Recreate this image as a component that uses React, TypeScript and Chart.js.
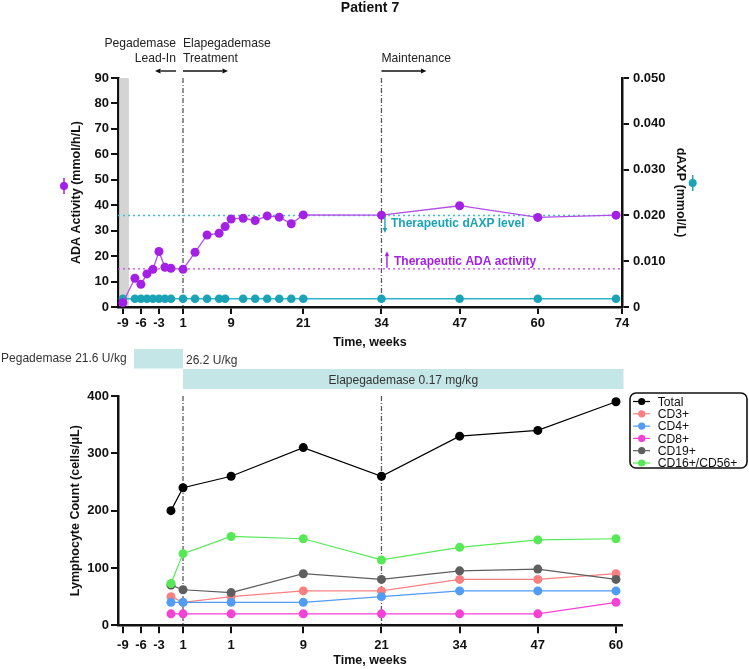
import React, { useEffect, useRef } from 'react';
import { Chart, registerables } from 'chart.js';

Chart.register(...registerables);

const FONT = '"Liberation Sans", Arial, Helvetica, sans-serif';

// ---------- Top panel data ----------
const adaWeeks = [-9, -7, -6, -5, -4, -3, -2, -1, 1, 3, 5, 7, 8, 9, 11, 13, 15, 17, 19, 21, 34, 47, 60, 73];
const adaActivity = [1.7, 11.3, 8.9, 13.0, 14.8, 21.8, 15.6, 15.2, 14.8, 21.5, 28.3, 29.0, 31.6, 34.6, 34.9, 34.0, 35.8, 35.3, 32.7, 36.2, 36.1, 39.8, 35.2, 36.1];
const daxpWeeks = [-9, -7, -6, -5, -4, -3, -2, -1, 1, 3, 5, 7, 8, 11, 13, 15, 17, 19, 21, 34, 47, 60, 73];
const daxpLevel = [0.0018, 0.0018, 0.0018, 0.0018, 0.0018, 0.0018, 0.0018, 0.0018, 0.0018, 0.0018, 0.0018, 0.0018, 0.0018, 0.0018, 0.0018, 0.0018, 0.0018, 0.0018, 0.0018, 0.0018, 0.0018, 0.0018, 0.0018];
const therapeuticAda = 15;
const therapeuticDaxp = 0.02;
const topTickValues = [-9, -6, -3, 1, 9, 21, 34, 47, 60, 74];
const phaseWeeks = [1, 34];
const leadInShadeEnd = -8;

// ---------- Bottom panel data ----------
const lymphWeeks = [-1, 1, 9, 21, 34, 47, 60, 73];
const bottomTickPositions = [-9, -6, -3, 1, 9, 21, 34, 47, 60, 73];
const bottomTickLabels = ['-9', '-6', '-3', '1', '1', '9', '21', '34', '47', '60'];
const lymphTotal = [200, 240, 260, 310, 260, 330, 340, 390];
const lymphCD3 = [50, 40, 50, 60, 60, 80, 80, 90];
const lymphCD4 = [40, 40, 40, 40, 50, 60, 60, 60];
const lymphCD8 = [20, 20, 20, 20, 20, 20, 20, 40];
const lymphCD19 = [70, 62, 57, 90, 80, 95, 98, 80];
const lymphCD16CD56 = [73, 125, 155, 151, 114, 136, 149, 151];
const seriesNames = ['Total', 'CD3+', 'CD4+', 'CD8+', 'CD19+', 'CD16+/CD56+'];
const seriesValues = [lymphTotal, lymphCD3, lymphCD4, lymphCD8, lymphCD19, lymphCD16CD56];
const seriesColors = ['#000000', '#f98080', '#509cf6', '#f542d6', '#5e5e5e', '#55ea55'];
const pegademaseSpan = [-7.15, 1];
const elapegademaseSpan = [1, 74];

const X_MIN = -9.81;
const X_MAX = 74;
const PURPLE = '#a420e4';
const TEAL = '#1aa3b7';
const AXIS = '#111111';

function sText(ctx: CanvasRenderingContext2D, text: string, x: number, y: number, align: CanvasTextAlign, sx = 0.9) {
  ctx.save();
  ctx.translate(x, y);
  ctx.scale(sx, 1);
  ctx.textAlign = align;
  ctx.textBaseline = 'middle';
  ctx.fillText(text, 0, 0);
  ctx.restore();
}

function arrow(ctx: CanvasRenderingContext2D, x1: number, y1: number, x2: number, y2: number, color: string, head = 5.5) {
  ctx.save();
  ctx.strokeStyle = color;
  ctx.fillStyle = color;
  ctx.lineWidth = 1.4;
  const ang = Math.atan2(y2 - y1, x2 - x1);
  const hx = x2 - head * Math.cos(ang);
  const hy = y2 - head * Math.sin(ang);
  ctx.beginPath();
  ctx.moveTo(x1, y1);
  ctx.lineTo(hx, hy);
  ctx.stroke();
  ctx.beginPath();
  ctx.moveTo(x2, y2);
  ctx.lineTo(hx + head * 0.45 * Math.sin(ang), hy - head * 0.45 * Math.cos(ang));
  ctx.lineTo(hx - head * 0.45 * Math.sin(ang), hy + head * 0.45 * Math.cos(ang));
  ctx.closePath();
  ctx.fill();
  ctx.restore();
}

function rotText(ctx: CanvasRenderingContext2D, text: string, cx: number, cy: number, angle: number) {
  ctx.save();
  ctx.translate(cx, cy);
  ctx.rotate(angle);
  ctx.textAlign = 'center';
  ctx.textBaseline = 'middle';
  ctx.fillText(text, 0, 0);
  ctx.restore();
}

function marker(ctx: CanvasRenderingContext2D, cx: number, cy: number, color: string) {
  ctx.save();
  ctx.strokeStyle = color;
  ctx.fillStyle = color;
  ctx.lineWidth = 1.5;
  ctx.beginPath();
  ctx.moveTo(cx, cy - 8);
  ctx.lineTo(cx, cy + 8);
  ctx.stroke();
  ctx.beginPath();
  ctx.arc(cx, cy, 4, 0, Math.PI * 2);
  ctx.fill();
  ctx.restore();
}

function phaseLines(chart: any) {
  const { ctx, chartArea: a, scales } = chart;
  ctx.save();
  ctx.strokeStyle = '#5a5a5a';
  ctx.lineWidth = 1.3;
  ctx.setLineDash([5, 2, 1, 2]);
  phaseWeeks.forEach((w) => {
    const px = scales.x.getPixelForValue(w);
    ctx.beginPath();
    ctx.moveTo(px, a.top);
    ctx.lineTo(px, a.bottom);
    ctx.stroke();
  });
  ctx.restore();
}

const topPlugin = {
  id: 'topDecor',
  beforeDatasetsDraw(chart: any) {
    const { ctx, chartArea: a, scales } = chart;
    ctx.save();
    ctx.fillStyle = '#d4d4d4';
    const bx = scales.x.getPixelForValue(leadInShadeEnd);
    ctx.fillRect(a.left + 1.3, a.top, bx - a.left - 1.3, a.bottom - a.top - 1.2);
    ctx.restore();
    phaseLines(chart);
  },
  afterDraw(chart: any) {
    const { ctx, scales, chartArea: a } = chart;
    const x = scales.x, y = scales.y, y1 = scales.y1;
    ctx.save();
    ctx.textBaseline = 'middle';
    ctx.fillStyle = AXIS;
    ctx.font = `bold 14px ${FONT}`;
    ctx.textAlign = 'center';
    ctx.fillText('Patient 7', 370, 8);

    const p1 = x.getPixelForValue(1);
    const p34 = x.getPixelForValue(34);
    ctx.font = `13.5px ${FONT}`;
    ctx.fillStyle = '#222';
    sText(ctx, 'Pegademase', p1 - 7, 43, 'right');
    sText(ctx, 'Lead-In', p1 - 7, 58, 'right');
    sText(ctx, 'Elapegademase', p1, 43, 'left');
    sText(ctx, 'Treatment', p1, 58, 'left');
    sText(ctx, 'Maintenance', p34, 58, 'left');
    arrow(ctx, p1 - 7, 71, p1 - 28, 71, '#111');
    arrow(ctx, p1, 71, p1 + 45, 71, '#111');
    arrow(ctx, p34, 71, p34 + 45, 71, '#111');

    const yd = y1.getPixelForValue(therapeuticDaxp);
    const ya = y.getPixelForValue(therapeuticAda);
    ctx.font = `bold 13.5px ${FONT}`;
    ctx.fillStyle = TEAL;
    sText(ctx, 'Therapeutic dAXP level', p34 + 9.5, yd + 7.5, 'left', 0.89);
    arrow(ctx, p34 + 3.5, yd + 1, p34 + 3.5, yd + 17.5, TEAL, 5);
    ctx.fillStyle = PURPLE;
    sText(ctx, 'Therapeutic ADA activity', p34 + 12.5, ya - 7.5, 'left', 0.89);
    arrow(ctx, p34 + 5.5, ya - 1, p34 + 5.5, ya - 17.5, PURPLE, 5);

    ctx.fillStyle = AXIS;
    ctx.font = `bold 12.5px ${FONT}`;
    const cy = (a.top + a.bottom) / 2;
    rotText(ctx, 'ADA Activity (mmol/h/L)', 77, cy, -Math.PI / 2);
    marker(ctx, 64, 186, PURPLE);
    rotText(ctx, 'dAXP (mmol/L)', 680, cy, Math.PI / 2);
    marker(ctx, 692.7, 183, TEAL);
    ctx.textAlign = 'center';
    ctx.fillText('Time, weeks', (a.left + a.right) / 2, 343);
    ctx.restore();
  },
};

const BOT_OFF = 340;

const bottomPlugin = {
  id: 'bottomDecor',
  beforeDatasetsDraw(chart: any) {
    phaseLines(chart);
  },
  afterDraw(chart: any) {
    const { ctx, scales, chartArea: a } = chart;
    const x = scales.x;
    ctx.save();
    // treatment bars
    ctx.fillStyle = '#c4e6e6';
    const pg0 = x.getPixelForValue(pegademaseSpan[0]);
    const pg1 = x.getPixelForValue(pegademaseSpan[1]);
    ctx.fillRect(pg0, 349 - BOT_OFF, pg1 - pg0, 19.5);
    const el0 = x.getPixelForValue(elapegademaseSpan[0]);
    const el1 = x.getPixelForValue(elapegademaseSpan[1]) + 1.5;
    ctx.fillRect(el0, 369 - BOT_OFF, el1 - el0, 20);
    ctx.fillStyle = '#333';
    ctx.font = `13.5px ${FONT}`;
    sText(ctx, 'Pegademase 21.6 U/kg', 1, 358.5 - BOT_OFF, 'left', 0.89);
    sText(ctx, '26.2 U/kg', pg1 + 3, 360 - BOT_OFF, 'left', 0.89);
    sText(ctx, 'Elapegademase 0.17 mg/kg', (el0 + el1) / 2, 380 - BOT_OFF, 'center', 0.89);

    // axis titles
    ctx.fillStyle = AXIS;
    ctx.font = `bold 12.5px ${FONT}`;
    rotText(ctx, 'Lymphocyte Count (cells/μL)', 76, (a.top + a.bottom) / 2, -Math.PI / 2);
    ctx.textAlign = 'center';
    ctx.textBaseline = 'middle';
    ctx.fillText('Time, weeks', (a.left + a.right) / 2, 660.5 - BOT_OFF);

    // legend
    ctx.strokeStyle = '#111';
    ctx.lineWidth = 1.6;
    ctx.beginPath();
    (ctx as any).roundRect(630, 393 - BOT_OFF, 117, 75, 6);
    ctx.stroke();
    ctx.font = `13.5px ${FONT}`;
    seriesNames.forEach((name, i) => {
      const yy = 401.5 - BOT_OFF + i * 12.3;
      ctx.strokeStyle = seriesColors[i];
      ctx.fillStyle = seriesColors[i];
      ctx.lineWidth = 1.2;
      ctx.beginPath();
      ctx.moveTo(633, yy);
      ctx.lineTo(650, yy);
      ctx.stroke();
      ctx.beginPath();
      ctx.arc(641.7, yy, 3.6, 0, Math.PI * 2);
      ctx.fill();
      ctx.fillStyle = '#111';
      sText(ctx, name, 657.7, yy + 0.5, 'left', 0.9);
    });
    ctx.restore();
  },
};

const tickFont = { family: FONT, size: 13, weight: 'bold' as const };

function axisGrid(len: number) {
  return { display: true, drawOnChartArea: false, drawTicks: true, tickLength: len, color: AXIS, lineWidth: 2 };
}
const axisBorder = { display: true, color: AXIS, width: 2.5 };

function topConfig(): any {
  return {
    type: 'line',
    data: {
      datasets: [
        {
          label: 'ADA Activity',
          data: adaWeeks.map((w, i) => ({ x: w, y: adaActivity[i] })),
          yAxisID: 'y',
          borderColor: '#b24ee6',
          backgroundColor: PURPLE,
          pointBackgroundColor: PURPLE,
          pointBorderColor: PURPLE,
          pointRadius: 4.5,
          pointBorderWidth: 0,
          borderWidth: 1.3,
          order: 0,
        },
        {
          label: 'dAXP',
          data: daxpWeeks.map((w, i) => ({ x: w, y: daxpLevel[i] })),
          yAxisID: 'y1',
          borderColor: '#2fb4c6',
          backgroundColor: TEAL,
          pointBackgroundColor: TEAL,
          pointBorderColor: TEAL,
          pointRadius: 4.3,
          pointBorderWidth: 0,
          borderWidth: 1.3,
          order: 1,
        },
        {
          label: 'Therapeutic ADA activity',
          data: [{ x: X_MIN, y: therapeuticAda }, { x: X_MAX, y: therapeuticAda }],
          yAxisID: 'y',
          borderColor: '#c545e0',
          borderDash: [2, 3],
          borderWidth: 1.3,
          pointRadius: 0,
          order: 3,
        },
        {
          label: 'Therapeutic dAXP level',
          data: [{ x: X_MIN, y: therapeuticDaxp }, { x: X_MAX, y: therapeuticDaxp }],
          yAxisID: 'y1',
          borderColor: '#3dbfd2',
          borderDash: [2, 3],
          borderWidth: 1.5,
          pointRadius: 0,
          order: 3,
        },
      ],
    },
    options: {
      responsive: true,
      maintainAspectRatio: false,
      animation: false,
      layout: { padding: { top: 78, left: 0, right: 0, bottom: 0 } },
      plugins: { legend: { display: false }, tooltip: { enabled: false }, title: { display: false } },
      scales: {
        x: {
          type: 'linear',
          min: X_MIN,
          max: X_MAX,
          afterBuildTicks: (s: any) => { s.ticks = topTickValues.map((v) => ({ value: v })); },
          afterFit: (s: any) => { s.height = 45; },
          ticks: { autoSkip: false, maxRotation: 0, font: tickFont, color: AXIS, padding: 2, callback: (v: any) => String(v) },
          grid: axisGrid(7),
          border: axisBorder,
        },
        y: {
          type: 'linear',
          position: 'left',
          min: 0,
          max: 90,
          afterFit: (s: any) => { s.width = 118; },
          ticks: { stepSize: 10, font: tickFont, color: AXIS, padding: 2 },
          grid: axisGrid(7),
          border: axisBorder,
        },
        y1: {
          type: 'linear',
          position: 'right',
          min: 0,
          max: 0.05,
          afterFit: (s: any) => { s.width = 127; },
          ticks: {
            stepSize: 0.01,
            font: tickFont,
            color: AXIS,
            padding: 4,
            callback: (v: any) => (v === 0 ? '0' : Number(v).toFixed(3)),
          },
          grid: axisGrid(7),
          border: axisBorder,
        },
      },
    },
    plugins: [topPlugin],
  };
}

function bottomConfig(): any {
  return {
    type: 'line',
    data: {
      datasets: seriesNames.map((name, si) => ({
        label: name,
        data: lymphWeeks.map((w, i) => ({ x: w, y: seriesValues[si][i] })),
        borderColor: seriesColors[si],
        backgroundColor: seriesColors[si],
        pointBackgroundColor: seriesColors[si],
        pointBorderColor: seriesColors[si],
        pointRadius: 4.5,
        pointBorderWidth: 0,
        borderWidth: 1.2,
        order: seriesNames.length - si,
      })),
    },
    options: {
      responsive: true,
      maintainAspectRatio: false,
      animation: false,
      layout: { padding: { top: 56, left: 0, right: 127, bottom: 0 } },
      plugins: { legend: { display: false }, tooltip: { enabled: false }, title: { display: false } },
      scales: {
        x: {
          type: 'linear',
          min: X_MIN,
          max: X_MAX,
          afterBuildTicks: (s: any) => { s.ticks = bottomTickPositions.map((v) => ({ value: v })); },
          afterFit: (s: any) => { s.height = 43.7; },
          ticks: {
            autoSkip: false,
            maxRotation: 0,
            font: tickFont,
            color: AXIS,
            padding: 4,
            callback: (_v: any, i: number) => bottomTickLabels[i],
          },
          grid: axisGrid(8),
          border: axisBorder,
        },
        y: {
          type: 'linear',
          position: 'left',
          min: 0,
          max: 400,
          afterFit: (s: any) => { s.width = 118; },
          ticks: { stepSize: 100, font: tickFont, color: AXIS, padding: 2 },
          grid: axisGrid(7),
          border: axisBorder,
        },
      },
    },
    plugins: [bottomPlugin],
  };
}

export default function App() {
  const topRef = useRef<HTMLCanvasElement>(null);
  const botRef = useRef<HTMLCanvasElement>(null);
  useEffect(() => {
    const top = new Chart(topRef.current as HTMLCanvasElement, topConfig());
    const bot = new Chart(botRef.current as HTMLCanvasElement, bottomConfig());
    return () => {
      top.destroy();
      bot.destroy();
    };
  }, []);
  return (
    <div style={{ position: 'absolute', left: 0, top: 0, width: 749, height: 669, background: '#fff', overflow: 'hidden' }}>
      <div style={{ position: 'absolute', left: 0, top: 0, width: 749, height: 352 }}>
        <canvas ref={topRef} />
      </div>
      <div style={{ position: 'absolute', left: 0, top: BOT_OFF, width: 749, height: 669 - BOT_OFF }}>
        <canvas ref={botRef} />
      </div>
    </div>
  );
}
